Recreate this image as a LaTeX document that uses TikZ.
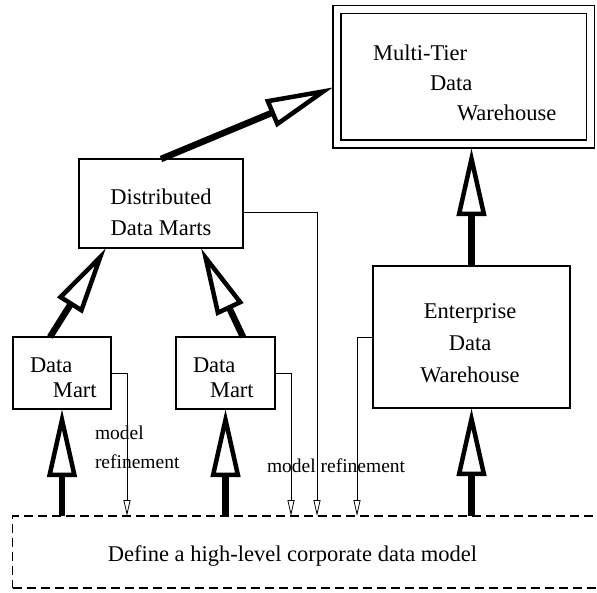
\documentclass[tikz,border=0pt]{standalone}
\usepackage{fontspec}
\setmainfont{Liberation Serif}
\usetikzlibrary{arrows.meta}

\begin{document}
\begin{tikzpicture}[x=1pt, y=-1pt,
  every node/.style = {outer sep=0pt, inner sep=0pt},
  box/.style = {draw, shape=rectangle, line width=1.2pt},
  lbl/.style = {font=\fontsize{22.5}{30}\selectfont},
  note/.style = {font=\fontsize{19.5}{29}\selectfont, align=left, anchor=north west},
  uparrow/.style = {line width=6.5pt, shorten >=0pt,
    -{Triangle[open, length=68pt, width=29pt, line width=4.5pt]}},
  refine/.style = {line width=0.8pt,
    -{Triangle[open, length=16pt, width=7pt, line width=0.8pt]}}]
  \useasboundingbox (0,0) rectangle (597,592);
  \clip (0,0) rectangle (597,592);

  \node[box, double, double distance=6.8pt, minimum width=253.5pt,
    minimum height=134.5pt] (mtdw) at (463.75,76.75) {};
  \node[box, minimum width=164pt, minimum height=89pt] (ddm) at (161,203.5) {};
  \node[box, minimum width=98pt, minimum height=72pt] (dm1) at (62,373) {};
  \node[box, minimum width=99pt, minimum height=72pt] (dm2) at (225.5,373) {};
  \node[box, minimum width=197pt, minimum height=142pt] (edw) at (471.5,337) {};
  \node[box, dash pattern=on 9pt off 5pt, minimum width=597pt,
    minimum height=72pt] (base) at (311,552) {};

  \node[lbl, anchor=north west, align=left] (mtdwtext) at (373,44.6)
    {Multi-Tier\\\hspace*{57pt}Data\\\hspace*{84pt}Warehouse};
  \node[lbl, anchor=north, align=center] (ddmtext) at (161,189)
    {Distributed\\[1pt]Data Marts};
  \node[lbl, anchor=north west, align=left] (dm1text) at (30,358)
    {Data\\[-5pt]\hspace*{23pt}Mart};
  \node[lbl, anchor=north west, align=left] (dm2text) at (193,358)
    {Data\\[-5pt]\hspace*{17pt}Mart};
  \node[lbl, anchor=north, align=center] (edwtext) at (470,303.6)
    {Enterprise\\[2pt]Data\\[2pt]Warehouse};
  \node[lbl, anchor=north] (basetext) at (292.5,545.6)
    {Define a high-level corporate data model};
  \node[note] (refine1) at (95,425.7) {model\\refinement};
  \node[note] (refine2) at (267,458.4) {model refinement};

  \draw[uparrow] ([xshift=-12pt]dm1.north) -- ([xshift=-55pt]ddm.south);
  \draw[uparrow] ([xshift=17.5pt]dm2.north) -- ([xshift=40pt]ddm.south);
  \draw[uparrow, shorten >=4pt] (ddm.north) -- ([yshift=-9pt]mtdw.west);
  \draw[uparrow, shorten >=4pt] (edw.north) -- (edw.north |- mtdw.south);
  \draw[uparrow] (base.north -| dm1.south) -- (dm1.south);
  \draw[uparrow] (base.north -| dm2.south) -- (dm2.south);
  \draw[uparrow] (base.north -| edw.south) -- (edw.south);

  \coordinate (drop1) at ([xshift=16pt]dm1.east);
  \coordinate (drop2) at ([xshift=16pt]dm2.east);
  \coordinate (drop3) at ([xshift=74pt, yshift=-8.5pt]ddm.east);
  \coordinate (drop4) at ([xshift=-16pt]edw.west);
  \draw[refine] (dm1.east) -- (drop1) -- (drop1 |- base.north);
  \draw[refine] (dm2.east) -- (drop2) -- (drop2 |- base.north);
  \draw[refine] ([yshift=-8.5pt]ddm.east) -- (drop3) -- (drop3 |- base.north);
  \draw[refine] (edw.west) -- (drop4) -- (drop4 |- base.north);
\end{tikzpicture}
\end{document}
